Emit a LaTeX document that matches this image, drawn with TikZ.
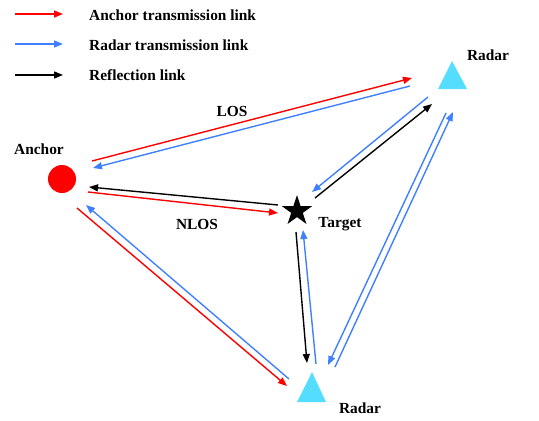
\documentclass[tikz,border=0pt]{standalone}
\usepackage{fontspec}
\setmainfont{Liberation Serif}
\usetikzlibrary{arrows.meta,shapes.geometric}
\definecolor{linkred}{RGB}{255,0,0}
\definecolor{linkblue}{RGB}{64,128,255}
\definecolor{radarcyan}{RGB}{85,221,255}
\tikzset{
  link/.style={line width=1.4pt,-{Triangle[length=9pt,width=7pt]}},
  redlink/.style={link,draw=linkred},
  bluelink/.style={link,draw=linkblue},
  blacklink/.style={link,draw=black},
  lbl/.style={font=\bfseries\fontsize{15.4}{17}\selectfont,inner sep=0pt},
}
\begin{document}
\begin{tikzpicture}[x=1pt,y=-1pt]
\useasboundingbox (0,0) rectangle (539,421);
% legend
\coordinate (l1a) at (15,14); \coordinate (l1b) at (63,14);
\coordinate (l2a) at (15,44); \coordinate (l2b) at (63,44);
\coordinate (l3a) at (15,75); \coordinate (l3b) at (63,75);
\draw[redlink] (l1a) -- (l1b);
\draw[bluelink] (l2a) -- (l2b);
\draw[blacklink] (l3a) -- (l3b);
\node[lbl,anchor=west] (t1) at (89,15) {Anchor transmission link};
\node[lbl,anchor=west] (t2) at (89,45) {Radar transmission link};
\node[lbl,anchor=west] (t3) at (89,75) {Reflection link};
% nodes
\node[circle,fill=linkred,minimum size=28pt,inner sep=0pt] (anc) at (62,179) {};
\node[star,star points=5,star point ratio=2.618,fill=black,minimum size=32pt,inner sep=0pt] (tgt) at (297,211) {};
\fill[radarcyan] (452,61) -- (467,89) -- (438,89) -- cycle;
\coordinate (radR) at (452,79);
\fill[radarcyan] (312,372) -- (326,402) -- (297,402) -- cycle;
\coordinate (radB) at (312,392);
\node[lbl] (lanc) at (39,149) {Anchor};
\node[lbl] (ltgt) at (340,224) {Target};
\node[lbl] (lradR) at (488,55) {Radar};
\node[lbl] (lradB) at (360,408) {Radar};
\node[lbl] (llos) at (232,111) {LOS};
\node[lbl] (lnlos) at (197,224) {NLOS};
% endpoints
\coordinate (a1) at (92,161);  \coordinate (r1) at (412,78);
\coordinate (r2) at (410,86);  \coordinate (a2) at (93,168);
\coordinate (e3) at (278,205); \coordinate (a3) at (89,187);
\coordinate (a4) at (88,192);  \coordinate (e4) at (278,213);
\coordinate (a5) at (77,208);  \coordinate (b5) at (287,386);
\coordinate (b6) at (289,379); \coordinate (a6) at (86,205);
\coordinate (r7) at (428,97);  \coordinate (e7) at (312,192);
\coordinate (e8) at (315,198); \coordinate (r8) at (432,104);
\coordinate (e9) at (296,232); \coordinate (b9) at (307,363);
\coordinate (b10) at (316,364);\coordinate (e10) at (303,230);
\coordinate (r11) at (446,113);\coordinate (b11) at (328,365);
\coordinate (b12) at (335,367);\coordinate (r12) at (453,112);
% links
\draw[redlink] (a1) -- (r1);
\draw[bluelink] (r2) -- (a2);
\draw[blacklink] (e3) -- (a3);
\draw[redlink] (a4) -- (e4);
\draw[redlink] (a5) -- (b5);
\draw[bluelink] (b6) -- (a6);
\draw[bluelink] (r7) -- (e7);
\draw[blacklink] (e8) -- (r8);
\draw[blacklink] (e9) -- (b9);
\draw[bluelink] (b10) -- (e10);
\draw[bluelink] (r11) -- (b11);
\draw[bluelink] (b12) -- (r12);
\end{tikzpicture}
\end{document}
